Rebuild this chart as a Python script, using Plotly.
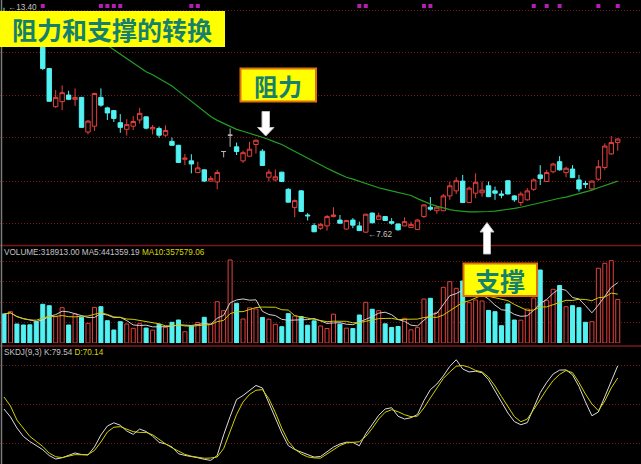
import pandas as pd
import plotly.graph_objects as go

# ---- daily bars ----
opens = [13.21, 12.88, 13.08, 12.83, 12.72, 12.62, 12.52, 11.84, 10.86, 10.99,
         11.16, 11.05, 11.10, 10.21, 10.36, 11.10, 10.83, 10.76, 10.45, 10.28,
         10.36, 10.52, 10.60, 10.29, 10.30, 10.13, 9.97, 9.87, 9.51, 9.47,
         9.17, 9.24, 8.95, 8.93, 9.71, 10.13, 9.83, 9.47, 9.59, 9.89,
         9.72, 9.05, 8.98, 9.18, 8.74, 8.27, 8.70, 8.08, 7.81, 7.74,
         7.80, 8.04, 7.95, 7.72, 7.95, 7.80, 7.64, 8.13, 7.97, 8.04,
         7.91, 7.85, 7.80, 7.76, 7.71, 8.04, 8.28, 8.19, 8.19, 8.57,
         8.70, 8.95, 8.40, 8.64, 8.65, 8.83, 8.70, 8.62, 8.96, 8.57,
         8.40, 8.47, 8.74, 9.11, 8.94, 9.19, 9.45, 9.17, 9.26, 8.98,
         8.89, 8.75, 9.00, 9.30, 9.65, 9.94]
highs = [13.40, 13.18, 13.13, 12.88, 12.77, 12.67, 12.57, 11.85, 11.29, 11.41,
         11.27, 11.33, 11.11, 10.52, 11.22, 11.33, 10.86, 10.77, 10.67, 10.54,
         10.62, 10.83, 10.61, 10.39, 10.35, 10.38, 10.07, 9.88, 9.65, 9.64,
         9.45, 9.25, 9.08, 9.24, 9.71, 10.30, 9.94, 9.73, 9.96, 10.02,
         9.77, 9.25, 9.25, 9.19, 8.77, 8.48, 8.72, 8.13, 7.87, 7.87,
         8.08, 8.28, 8.08, 7.95, 8.00, 7.91, 8.11, 8.14, 8.14, 8.05,
         8.00, 7.86, 8.02, 7.91, 7.97, 8.35, 8.54, 8.30, 8.62, 8.94,
         9.05, 9.11, 8.81, 9.15, 8.94, 8.94, 8.81, 8.71, 8.97, 8.59,
         8.68, 8.77, 9.02, 9.36, 9.24, 9.42, 9.59, 9.32, 9.36, 9.11,
         8.96, 8.97, 9.49, 9.92, 10.11, 10.05]
lows = [12.90, 12.83, 12.77, 12.62, 12.52, 12.41, 11.80, 10.99, 10.83, 10.77,
        11.03, 10.88, 10.32, 10.15, 10.24, 10.86, 10.52, 10.47, 10.19, 10.12,
        10.26, 10.43, 10.28, 10.15, 10.06, 10.09, 9.86, 9.42, 9.36, 9.15,
        9.16, 8.93, 8.94, 8.74, 9.56, 9.83, 9.62, 9.42, 9.58, 9.66,
        9.34, 8.94, 8.94, 8.93, 8.40, 8.02, 8.16, 7.94, 7.64, 7.70,
        7.68, 8.02, 7.86, 7.71, 7.74, 7.67, 7.62, 7.87, 7.96, 7.93,
        7.83, 7.68, 7.79, 7.75, 7.70, 8.00, 8.19, 8.11, 8.18, 8.47,
        8.62, 8.39, 8.39, 8.51, 8.55, 8.54, 8.47, 8.51, 8.61, 8.42,
        8.31, 8.45, 8.70, 8.85, 8.93, 9.15, 9.22, 9.05, 9.03, 8.68,
        8.77, 8.72, 8.96, 9.24, 9.62, 9.73]
closes = [12.95, 13.08, 12.83, 12.67, 12.57, 12.47, 11.84, 11.00, 11.10, 11.22,
          11.05, 11.10, 10.33, 10.49, 11.20, 10.90, 10.70, 10.56, 10.33, 10.40,
          10.48, 10.69, 10.31, 10.33, 10.13, 10.25, 9.87, 9.43, 9.54, 9.39,
          9.29, 8.95, 9.02, 9.17, 9.71, 10.13, 9.71, 9.68, 9.77, 10.00,
          9.35, 9.18, 9.06, 8.94, 8.41, 8.45, 8.17, 8.06, 7.65, 7.84,
          8.04, 8.08, 7.87, 7.94, 7.82, 7.68, 8.10, 7.88, 8.06, 7.94,
          7.87, 7.70, 7.91, 7.84, 7.95, 8.34, 8.23, 8.28, 8.57, 8.83,
          8.96, 8.40, 8.77, 8.92, 8.72, 8.55, 8.64, 8.59, 8.62, 8.47,
          8.62, 8.70, 8.98, 9.02, 9.17, 9.39, 9.24, 9.28, 9.04, 8.75,
          8.87, 8.95, 9.32, 9.85, 9.94, 10.03]

# long moving average of price (starts where the line emerges on the chart)
ma_long = [None] * 13 + [
    12.75, 12.65, 12.54, 12.44, 12.32, 12.21, 12.09, 11.98, 11.86, 11.76,
    11.68, 11.59, 11.50, 11.39, 11.26, 11.13, 11.00, 10.87, 10.74, 10.61,
    10.51, 10.43, 10.34, 10.28, 10.23, 10.18, 10.14, 10.08, 10.02, 9.95,
    9.89, 9.80, 9.71, 9.62, 9.53, 9.44, 9.36, 9.28, 9.20, 9.12,
    9.05, 9.00, 8.94, 8.89, 8.83, 8.78, 8.74, 8.70, 8.67, 8.63,
    8.58, 8.50, 8.42, 8.36, 8.31, 8.26, 8.22, 8.19, 8.17, 8.16,
    8.16, 8.16, 8.17, 8.18, 8.20, 8.22, 8.25, 8.28, 8.32, 8.36,
    8.39, 8.43, 8.47, 8.51, 8.54, 8.58, 8.62, 8.67, 8.72, 8.78,
    8.84, 8.89, 8.95]

volumes = [212200, 229000, 139000, 131700, 133000, 155800, 283200, 272900, 192400, 258300,
           131700, 212200, 188000, 144100, 260500, 265600, 163200, 95100, 155800, 139000,
           107600, 141200, 109300, 93800, 137500, 114900, 151500, 168300, 82700, 124400,
           150200, 188000, 138400, 302200, 236300, 607300, 290500, 175600, 257100, 248800,
           186900, 173900, 136800, 119300, 214600, 197600, 193800, 130100, 162000, 124400,
           106200, 210900, 138000, 108500, 105900, 204900, 297800, 247000, 236300, 140300,
           113700, 120800, 180700, 96300, 112400, 321900, 327100, 224600, 407600, 448500,
           400200, 453700, 294900, 314600, 307300, 238400, 229000, 126600, 285400, 168300,
           166900, 248800, 329300, 534100, 312900, 392900, 420694.65, 265600, 272900, 258300,
           151500, 155882.95, 546600, 583200, 602200, 318913]

k_line = [46.3, 40.2, 31.7, 25.2, 21.3, 18.0, 15.0, 10.5, 7.8, 8.8,
          10.5, 12.5, 11.3, 10.9, 17.1, 26.3, 33.2, 35.7, 33.8, 29.4,
          26.8, 30.9, 29.0, 25.4, 20.7, 19.4, 17.1, 11.9, 10.6, 9.9,
          8.8, 7.6, 6.8, 10.5, 26.5, 40.5, 53.6, 56.7, 60.2, 64.4,
          62.5, 50.2, 39.4, 27.8, 18.2, 15.1, 13.1, 11.2, 9.3, 9.8,
          13.6, 17.0, 19.4, 20.8, 20.6, 18.0, 27.3, 34.2, 41.5, 46.3,
          47.3, 40.7, 38.6, 39.6, 42.1, 52.7, 61.2, 65.5, 71.7, 79.1,
          84.2, 77.1, 74.8, 75.4, 74.2, 68.8, 60.4, 52.0, 43.2, 36.6,
          34.2, 35.8, 47.5, 58.9, 66.7, 73.2, 76.2, 76.4, 72.6, 63.6,
          51.8, 41.1, 44.0, 55.9, 66.7, 79.54]
d_line = [55.5, 48.6, 37.8, 31.3, 25.2, 21.4, 17.5, 12.4, 9.6, 8.9,
          10.2, 11.2, 11.1, 11.2, 14.4, 20.9, 28.6, 32.3, 32.7, 30.5,
          28.9, 28.3, 28.3, 26.5, 22.7, 19.5, 16.5, 13.8, 11.4, 10.0,
          9.0, 8.4, 8.6, 9.4, 15.9, 28.6, 42.1, 51.7, 57.5, 60.7,
          61.2, 54.2, 43.6, 31.5, 21.5, 15.6, 11.8, 9.5, 8.7, 8.5,
          11.8, 15.3, 18.2, 20.2, 20.8, 21.1, 25.2, 31.4, 38.6, 43.8,
          45.8, 44.2, 41.9, 40.4, 40.8, 47.1, 54.8, 62.5, 69.8, 74.8,
          79.2, 79.8, 78.4, 76.0, 74.8, 70.8, 64.0, 55.9, 47.8, 40.5,
          36.5, 38.6, 45.9, 54.0, 61.3, 68.2, 72.9, 75.9, 74.3, 66.7,
          57.8, 50.2, 45.0, 52.5, 62.5, 70.14]

# days carrying an event flag on the top strip
flag_days = [6, 15, 16, 17, 18, 29, 30, 55, 56, 65, 66, 82, 84, 86, 92, 95]

# unlabelled grid levels of each pane
price_grid = [7.85, 8.95, 10.06, 11.16, 12.24, 13.34]
volume_grid = [150000, 300000, 450000, 600000]
kdj_grid = [20, 50, 80]

# ---- styling ----
W, H = 641, 464
RED = "#E4403E"
CYAN = "#52F2F2"
GRID = "#741616"
TEAL = "#15806E"
PRICE_RANGE = [7.31, 13.60]
VOL_RANGE = [0, 702400]
KDJ_RANGE = [4.0, 94.0]


def fx(px):
    return px / W


def fy(py):
    return 1 - py / H


n = len(closes)
days = list(range(n))
doji = [i for i in days if opens[i] == closes[i]]
normal = [i not in doji for i in days]


def pick(vals, keep):
    return [v if k else None for v, k in zip(vals, keep)]


vol = pd.Series(volumes, dtype=float)
ma5 = vol.rolling(5, min_periods=1).mean()
ma10 = vol.rolling(10, min_periods=1).mean()
rising = [c >= o for o, c in zip(opens, closes)]

fig = go.Figure()

# candles
fig.add_trace(go.Candlestick(
    x=days, open=pick(opens, normal), high=pick(highs, normal),
    low=pick(lows, normal), close=pick(closes, normal),
    increasing=dict(line=dict(color=RED, width=1), fillcolor="#000000"),
    decreasing=dict(line=dict(color=CYAN, width=1), fillcolor=CYAN),
    whiskerwidth=0, hoverinfo="skip"))
flat = [i in doji for i in days]
fig.add_trace(go.Candlestick(
    x=days, open=pick(opens, flat), high=pick(highs, flat),
    low=pick(lows, flat), close=pick(closes, flat),
    increasing=dict(line=dict(color="#B8B8B8", width=1), fillcolor="#B8B8B8"),
    decreasing=dict(line=dict(color="#B8B8B8", width=1), fillcolor="#B8B8B8"),
    whiskerwidth=0, hoverinfo="skip"))

fig.add_trace(go.Scatter(x=days, y=ma_long, mode="lines",
                         line=dict(color="#23A023", width=1.2), hoverinfo="skip"))

# event flags along the top edge of the price pane
flag_level = PRICE_RANGE[1] - (PRICE_RANGE[1] - PRICE_RANGE[0]) * 6 / 245
fig.add_trace(go.Scatter(x=flag_days, y=[flag_level] * len(flag_days), mode="markers",
                         marker=dict(symbol="square", size=4, color="#B21FB2"),
                         hoverinfo="skip"))

# volume
fig.add_trace(go.Bar(x=days, y=pick(volumes, rising), yaxis="y2", width=0.62,
                     marker=dict(color="#000000", line=dict(color=RED, width=1)),
                     hoverinfo="skip"))
fig.add_trace(go.Bar(x=days, y=pick(volumes, [not r for r in rising]), yaxis="y2",
                     width=0.62, marker=dict(color=CYAN, line=dict(color=CYAN, width=1)),
                     hoverinfo="skip"))
fig.add_trace(go.Scatter(x=days, y=ma5, yaxis="y2", mode="lines",
                         line=dict(color="#D0D0D0", width=1), hoverinfo="skip"))
fig.add_trace(go.Scatter(x=days, y=ma10, yaxis="y2", mode="lines",
                         line=dict(color="#CFCF00", width=1), hoverinfo="skip"))

# SKDJ
fig.add_trace(go.Scatter(x=days, y=k_line, yaxis="y3", mode="lines",
                         line=dict(color="#DCDCDC", width=1), hoverinfo="skip"))
fig.add_trace(go.Scatter(x=days, y=d_line, yaxis="y3", mode="lines",
                         line=dict(color="#D2D200", width=1), hoverinfo="skip"))

grid_axis = dict(showgrid=True, gridcolor=GRID, griddash="1px,2px", gridwidth=1,
                 showticklabels=False, ticks="", zeroline=False, showline=False,
                 fixedrange=True)

shapes = [
    # pane separators and left frame
    dict(type="line", xref="paper", yref="paper", x0=0, x1=1, y0=fy(245.5), y1=fy(245.5),
         line=dict(color="#7A1818", width=1.5), layer="above"),
    dict(type="line", xref="paper", yref="paper", x0=0, x1=1, y0=fy(346), y1=fy(346),
         line=dict(color="#7A1818", width=1.5), layer="above"),
    dict(type="line", xref="paper", yref="paper", x0=fx(1.5), x1=fx(1.5), y0=0, y1=1,
         line=dict(color="#7A7A7A", width=1.5), layer="above"),
    # title plate
    dict(type="rect", xref="paper", yref="paper", x0=fx(0), x1=fx(225), y0=fy(47), y1=fy(11),
         fillcolor="#FFFF00", line=dict(width=0), layer="above"),
    # callout plates
    dict(type="rect", xref="paper", yref="paper", x0=fx(240.5), x1=fx(316), y0=fy(101.5), y1=fy(68.5),
         fillcolor="#FFFF00", line=dict(color="#E0700E", width=2), layer="above"),
    dict(type="rect", xref="paper", yref="paper", x0=fx(463.5), x1=fx(537), y0=fy(296), y1=fy(263.5),
         fillcolor="#FFFF00", line=dict(color="#E0700E", width=2), layer="above"),
]


def arrow_path(points):
    return "M " + " L ".join(f"{fx(x):.5f},{fy(y):.5f}" for x, y in points) + " Z"


down_arrow = [(262, 111.5), (269.5, 111.5), (269.5, 127.5), (274, 127.5),
              (265.75, 136), (257.5, 127.5), (262, 127.5)]
up_arrow = [(487, 222.5), (494, 232), (490.5, 232), (490.5, 254),
            (483.5, 254), (483.5, 232), (480, 232)]
for pts in (down_arrow, up_arrow):
    shapes.append(dict(type="path", xref="paper", yref="paper", path=arrow_path(pts),
                       fillcolor="#FFFFFF", line=dict(color="#BDBDBD", width=1), layer="above"))

small = dict(family="Liberation Sans, Arial, sans-serif", size=8.2, color="#C4C4C4")
cjk = dict(family="Noto Sans CJK SC", color=TEAL, weight="bold")
low_i = min(days, key=lambda i: lows[i])
high_i = max(days, key=lambda i: highs[i])

annotations = [
    dict(xref="x", yref="y", x=high_i, y=highs[high_i], text=f"←{highs[high_i]:.2f}",
         showarrow=False, xanchor="left", yanchor="middle", xshift=2, font=small),
    dict(xref="x", yref="y", x=low_i, y=lows[low_i], text=f"←{lows[low_i]:.2f}",
         showarrow=False, xanchor="left", yanchor="middle", xshift=0, yshift=-2, font=small),
    dict(xref="paper", yref="paper", x=fx(112), y=fy(29), text="阻力和支撑的转换",
         showarrow=False, xanchor="center", yanchor="middle", font=dict(cjk, size=25)),
    dict(xref="paper", yref="paper", x=fx(278), y=fy(85), text="阻力",
         showarrow=False, xanchor="center", yanchor="middle", font=dict(cjk, size=24)),
    dict(xref="paper", yref="paper", x=fx(500), y=fy(279.5), text="支撑",
         showarrow=False, xanchor="center", yanchor="middle", font=dict(cjk, size=25)),
    dict(xref="paper", yref="paper", x=fx(2), y=fy(252), showarrow=False,
         xanchor="left", yanchor="middle", font=small,
         text=(f"VOLUME:{volumes[-1]:.2f} MA5:{ma5.iloc[-1]:.2f} "
               f"<span style='color:#D8D800'>MA10:{ma10.iloc[-1]:.2f}</span>")),
    dict(xref="paper", yref="paper", x=fx(2), y=fy(352), showarrow=False,
         xanchor="left", yanchor="middle", font=small,
         text=(f"SKDJ(9,3) K:{k_line[-1]:.2f} "
               f"<span style='color:#D8D800'>D:{d_line[-1]:.2f}</span>")),
]

fig.update_layout(
    width=W, height=H, margin=dict(l=0, r=0, t=0, b=0),
    paper_bgcolor="#000000", plot_bgcolor="#000000",
    showlegend=False, barmode="overlay", boxgap=0.2, boxgroupgap=0.15,
    xaxis=dict(range=[-0.62, 98.6], showgrid=False, zeroline=False, showticklabels=False,
               ticks="", showline=False, rangeslider=dict(visible=False), fixedrange=True),
    yaxis=dict(grid_axis, domain=[fy(245), fy(0)], range=PRICE_RANGE, tickvals=price_grid),
    yaxis2=dict(grid_axis, domain=[fy(343), fy(247)], range=VOL_RANGE, tickvals=volume_grid,
                anchor="x"),
    yaxis3=dict(grid_axis, domain=[fy(464), fy(347)], range=KDJ_RANGE, tickvals=kdj_grid,
                anchor="x"),
    shapes=shapes, annotations=annotations,
)

fig.write_html("out.html")
